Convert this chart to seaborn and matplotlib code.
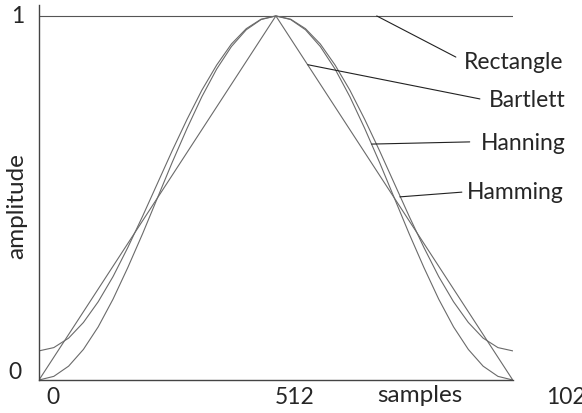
import numpy as np
import pandas as pd
import matplotlib
matplotlib.use("Agg")
import matplotlib.pyplot as plt
import seaborn as sns

# window values (samples 0..1024)
smooth_x = [0, 32, 64, 96, 128, 160, 192, 224, 256, 288, 320, 352, 384, 416, 448, 480,
            512, 544, 576, 608, 640, 672, 704, 736, 768, 800, 832, 864, 896, 928, 960, 992, 1024]
hanning_half = [0.0, 0.010, 0.038, 0.084, 0.146, 0.222, 0.309, 0.402, 0.5,
                0.598, 0.691, 0.778, 0.854, 0.916, 0.962, 0.990]
hamming_half = [0.08, 0.089, 0.115, 0.158, 0.215, 0.284, 0.364, 0.450, 0.54,
                0.630, 0.716, 0.796, 0.865, 0.923, 0.965, 0.991]
hanning_y = hanning_half + [1.0] + hanning_half[::-1]
hamming_y = hamming_half + [1.0] + hamming_half[::-1]
bartlett_x = [0, 512, 1024]
bartlett_y = [0.0, 1.0, 0.0]
rect_x = [0, 1024]
rect_y = [1.0, 1.0]

# label name, point on curve, end of leader line, label anchor
labels = ["Rectangle", "Bartlett", "Hanning", "Hamming"]
leader_from = [(730, 1.0), (581, 0.866), (719, 0.648), (780, 0.503)]
leader_to = [(901, 0.887), (953, 0.772), (931, 0.654), (914, 0.516)]
label_pos = [(918, 0.876), (972, 0.770), (955, 0.652), (925, 0.517)]

df = pd.concat([
    pd.DataFrame({"x": rect_x, "y": rect_y, "window": "Rectangle"}),
    pd.DataFrame({"x": bartlett_x, "y": bartlett_y, "window": "Bartlett"}),
    pd.DataFrame({"x": smooth_x, "y": hanning_y, "window": "Hanning"}),
    pd.DataFrame({"x": smooth_x, "y": hamming_y, "window": "Hamming"}),
])

sns.set_style("white")
plt.rcParams["font.family"] = ["Lato", "DejaVu Sans"]

fig = plt.figure(figsize=(5.82, 4.14), dpi=100)
ax = fig.add_axes([0.067, 0.0797, 0.814, 0.9058])

line_col = "#6a6a6a"
sns.lineplot(data=df, x="x", y="y", hue="window", units="window", estimator=None,
             palette={w: line_col for w in labels}, linewidth=0.8, legend=False, ax=ax)
# rectangle a bit darker, as in the picture
ax.lines[0].set_color("#555555")

ax.set_xlim(0, 1024)
ax.set_ylim(0, 1.03)
ax.set_xticks([])
ax.set_yticks([])
ax.set_xlabel("")
ax.set_ylabel("")
for s in ["top", "right"]:
    ax.spines[s].set_visible(False)
for s in ["left", "bottom"]:
    ax.spines[s].set_color("#444444")
    ax.spines[s].set_linewidth(1.0)

fs = 16.5
for name, p0, p1, lp in zip(labels, leader_from, leader_to, label_pos):
    ax.plot([p0[0], p1[0]], [p0[1], p1[1]], color="#222222", lw=0.8, clip_on=False)
    ax.text(lp[0], lp[1], name, ha="left", va="center", fontsize=fs, clip_on=False)

# tick labels, placed as in the picture
ax.text(30, -0.045, "0", ha="center", va="center", fontsize=fs)
ax.text(553, -0.045, "512", ha="center", va="center", fontsize=fs)
ax.text(1097, -0.045, "1024", ha="left", va="center", fontsize=fs)
ax.text(-46, 1.0, "1", ha="center", va="center", fontsize=fs)
ax.text(-52, 0.022, "0", ha="center", va="center", fontsize=fs)
ax.text(823, -0.04, "samples", ha="center", va="center", fontsize=17.5)
ax.text(-49, 0.48, "amplitude", ha="center", va="center", rotation=90, fontsize=17.5)

fig.savefig("out.png", dpi=100)
